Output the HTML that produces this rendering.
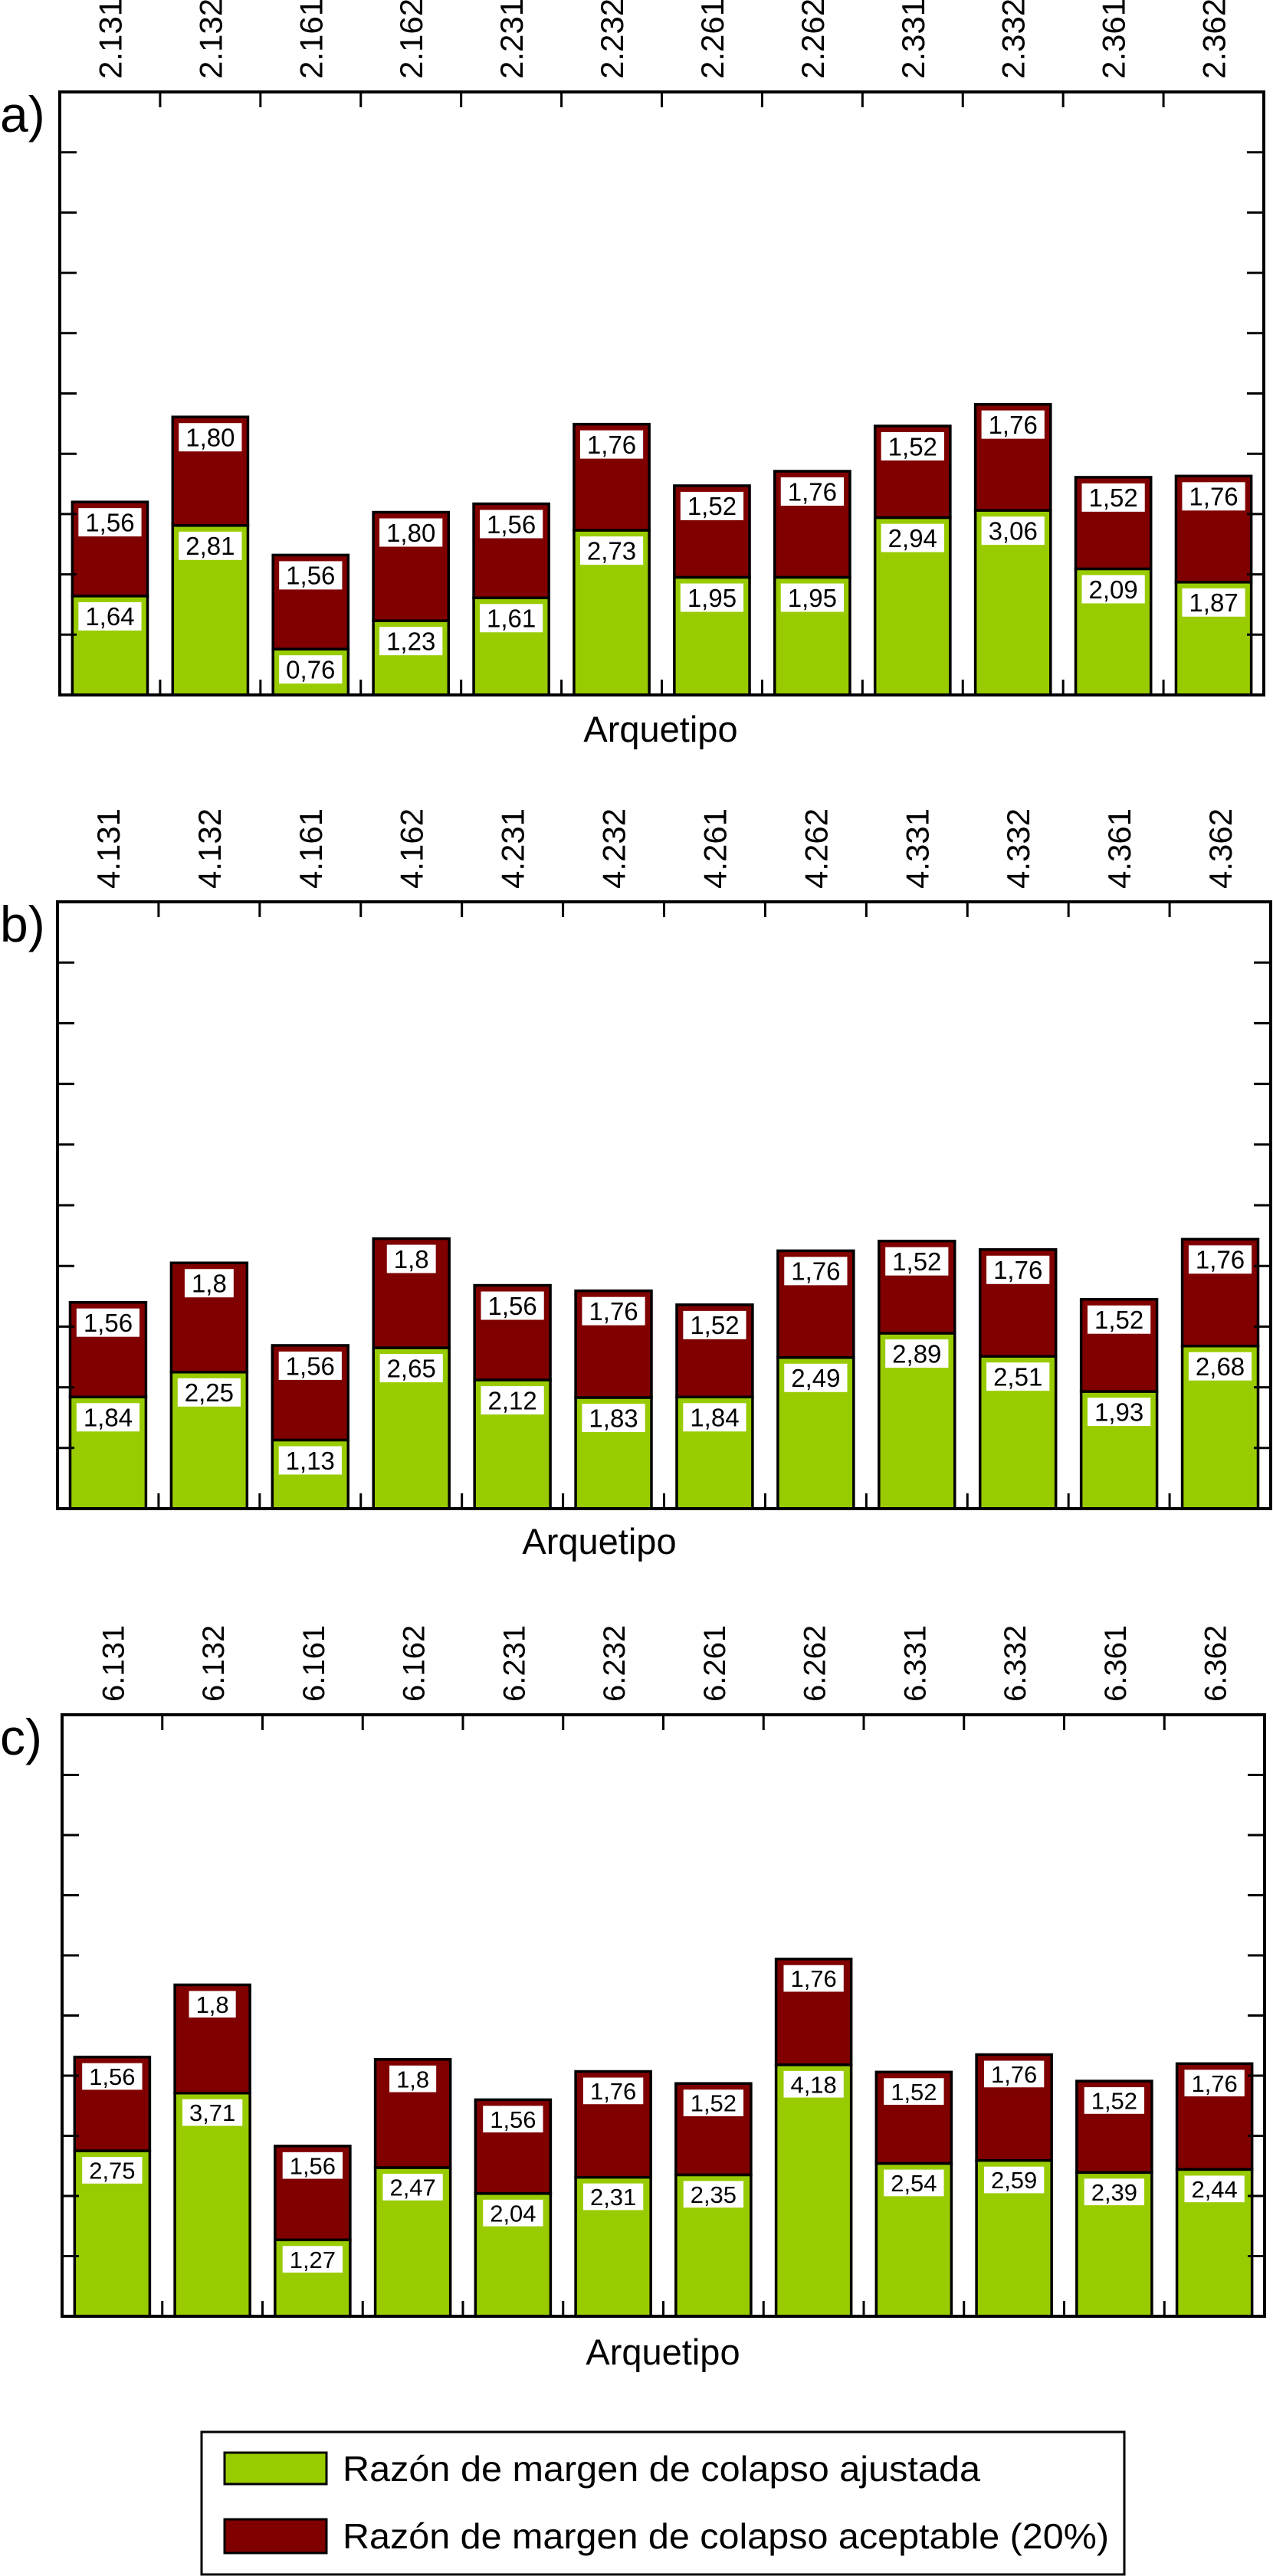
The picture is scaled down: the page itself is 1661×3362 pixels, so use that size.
<!DOCTYPE html>
<html><head><meta charset="utf-8"><style>
html,body{margin:0;padding:0;background:#fff;}
svg{display:block;font-family:"Liberation Sans",Arial,sans-serif;}
</style></head><body>
<svg id="chart" width="1661" height="3362" viewBox="0 0 1661 3362" xmlns="http://www.w3.org/2000/svg">
<g id="legend">
<rect x="263" y="3174" width="1204" height="186" fill="#fff" stroke="#000" stroke-width="3"/>
<g>
<rect x="293" y="3201" width="133" height="41" fill="#99cc00" stroke="#000" stroke-width="3"/>
<text x="447" y="3238" font-size="46" textLength="832" lengthAdjust="spacingAndGlyphs">Razón de margen de colapso ajustada</text>
</g>
<g>
<rect x="293" y="3288" width="133" height="44" fill="#800000" stroke="#000" stroke-width="3"/>
<text x="447" y="3326" font-size="46" textLength="1000" lengthAdjust="spacingAndGlyphs">Razón de margen de colapso aceptable (20%)</text>
</g>
</g>
</svg>
<script>
const catsA = ["2.131","2.132","2.161","2.162","2.231","2.232","2.261","2.262","2.331","2.332","2.361","2.362"];
const greenA = [1.64,2.81,0.76,1.23,1.61,2.73,1.95,1.95,2.94,3.06,2.09,1.87];
const redA = [1.56,1.80,1.56,1.80,1.56,1.76,1.52,1.76,1.52,1.76,1.52,1.76];
const greenLabelsA = ["1,64","2,81","0,76","1,23","1,61","2,73","1,95","1,95","2,94","3,06","2,09","1,87"];
const redLabelsA = ["1,56","1,80","1,56","1,80","1,56","1,76","1,52","1,76","1,52","1,76","1,52","1,76"];

const catsB = ["4.131","4.132","4.161","4.162","4.231","4.232","4.261","4.262","4.331","4.332","4.361","4.362"];
const greenB = [1.84,2.25,1.13,2.65,2.12,1.83,1.84,2.49,2.89,2.51,1.93,2.68];
const redB = [1.56,1.8,1.56,1.8,1.56,1.76,1.52,1.76,1.52,1.76,1.52,1.76];
const greenLabelsB = ["1,84","2,25","1,13","2,65","2,12","1,83","1,84","2,49","2,89","2,51","1,93","2,68"];
const redLabelsB = ["1,56","1,8","1,56","1,8","1,56","1,76","1,52","1,76","1,52","1,76","1,52","1,76"];

const catsC = ["6.131","6.132","6.161","6.162","6.231","6.232","6.261","6.262","6.331","6.332","6.361","6.362"];
const greenC = [2.75,3.71,1.27,2.47,2.04,2.31,2.35,4.18,2.54,2.59,2.39,2.44];
const redC = [1.56,1.8,1.56,1.8,1.56,1.76,1.52,1.76,1.52,1.76,1.52,1.76];
const greenLabelsC = ["2,75","3,71","1,27","2,47","2,04","2,31","2,35","4,18","2,54","2,59","2,39","2,44"];
const redLabelsC = ["1,56","1,8","1,56","1,8","1,56","1,76","1,52","1,76","1,52","1,76","1,52","1,76"];

const yMax = 10;
const NS = "http://www.w3.org/2000/svg";
const svg = document.getElementById('chart');

function mk(tag, attrs, parent) {
  const e = document.createElementNS(NS, tag);
  for (const k in attrs) e.setAttribute(k, attrs[k]);
  parent.appendChild(e);
  return e;
}

function textW(s, fs) {
  let w = 0;
  for (const ch of s) w += (ch === ',' || ch === '.') ? 0.278 : 0.556;
  return w * fs;
}

function panel(id, cfg, cats, green, red, gl, rl) {
  const g = mk('g', {}, svg);
  
  
  const L = cfg.left, R = cfg.right, T = cfg.top, B = cfg.bottom;
  const n = cats.length;
  const pitch = (R - L) / n;
  const bw = pitch * 0.75;
  const yS = v => B - (v / yMax) * (B - T);
  const xC = i => L + pitch * (i + 0.5);

  const lab = mk('text', {x: 0, y: T + 52, 'font-size': 66}, g);
  
  
  lab.textContent = id + ')';

  for (let i = 0; i < n; i++) {
    const cx = xC(i);
    const t = mk('text', {x: 0, y: 0, 'font-size': cfg.catFs, transform: 'translate(' + (cx + 15) + ',' + (T - 17) + ') rotate(-90)'}, g);
    
    
    t.textContent = cats[i];

    const yg = yS(green[i]);
    const yr = yS(green[i] + red[i]);
    const rb = mk('rect', {x: cx - bw / 2, y: yr, width: bw, height: yg - yr, fill: '#800000', stroke: '#000', 'stroke-width': 3.5}, g);
    
    
    const gb = mk('rect', {x: cx - bw / 2, y: yg, width: bw, height: B - yg, fill: '#99cc00', stroke: '#000', 'stroke-width': 3.5}, g);
    
    

    const fs = cfg.valFs;
    [[rl[i], yr], [gl[i], yg]].forEach((p, k) => {
      const w = textW(p[0], fs) + 18;
      const h = fs * 1.12;
      const bx = mk('rect', {x: cx - w / 2, y: p[1] + 8, width: w, height: h, fill: '#fff'}, g);
      
      
      const vt = mk('text', {x: cx, y: p[1] + 8 + h * 0.82, 'font-size': fs, 'text-anchor': 'middle'}, g);
      
      
      vt.textContent = p[0];
    });
  }

  const frame = mk('rect', {x: L, y: T, width: R - L, height: B - T, fill: 'none', stroke: '#000', 'stroke-width': 4}, g);
  
  

  for (let k = 1; k < yMax; k++) {
    const y = yS(k);
    const t1 = mk('line', {x1: L, x2: L + 22, y1: y, y2: y, stroke: '#000', 'stroke-width': 3}, g);
    
    
    const t2 = mk('line', {x1: R - 22, x2: R, y1: y, y2: y, stroke: '#000', 'stroke-width': 3}, g);
    
    
  }
  for (let i = 1; i < n; i++) {
    const x = L + pitch * i;
    const t1 = mk('line', {x1: x, x2: x, y1: T, y2: T + 20, stroke: '#000', 'stroke-width': 3}, g);
    
    
    const t2 = mk('line', {x1: x, x2: x, y1: B - 20, y2: B, stroke: '#000', 'stroke-width': 3}, g);
    
    
  }

  const at = mk('text', {x: cfg.titleX, y: cfg.titleY, 'font-size': 47, 'text-anchor': 'middle'}, g);
  
  
  at.textContent = 'Arquetipo';
}

panel('a', {left: 78, right: 1649, top: 120, bottom: 907, catFs: 42, valFs: 33, titleX: 862, titleY: 968}, catsA, greenA, redA, greenLabelsA, redLabelsA);
panel('b', {left: 75, right: 1658, top: 1177, bottom: 1969, catFs: 42, valFs: 33, titleX: 782, titleY: 2028}, catsB, greenB, redB, greenLabelsB, redLabelsB);
panel('c', {left: 81, right: 1650, top: 2238, bottom: 3023, catFs: 40, valFs: 31, titleX: 865, titleY: 3086}, catsC, greenC, redC, greenLabelsC, redLabelsC);
</script>
</body></html>
